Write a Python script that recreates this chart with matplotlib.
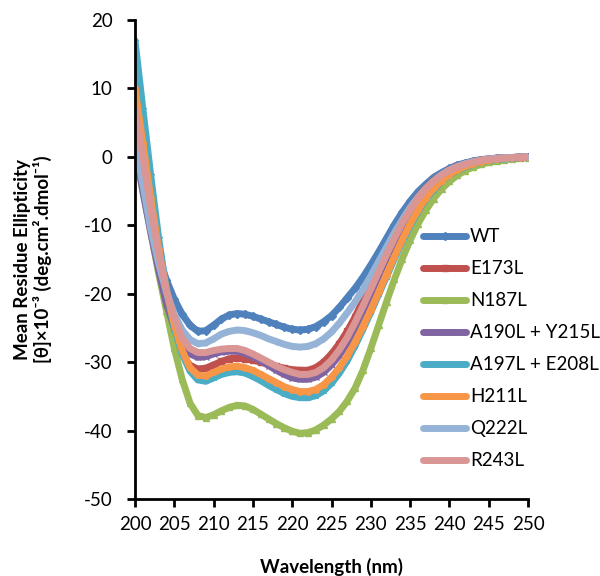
import numpy as np
import matplotlib
matplotlib.use('Agg')
import matplotlib.pyplot as plt

# font setup (Calibri-like look)
plt.rcParams['font.family'] = ['Lato', 'DejaVu Sans']
plt.rcParams['axes.unicode_minus'] = False
FONT = 13.5

# ---------------- data ----------------
wavelength = np.arange(200, 251)   # nm, 1 nm steps

WT = [1.0, -4.0, -10.0, -14.5, -18.0, -20.8, -23.0, -24.6, -25.5, -25.4,
      -24.6, -23.7, -23.1, -22.9, -23.0, -23.3, -23.7, -24.1, -24.5, -24.9,
      -25.2, -25.3, -25.2, -24.8, -24.1, -23.2, -22.0, -20.6, -19.2, -17.6,
      -15.8, -13.9, -11.9, -9.9, -8.1, -6.5, -5.1, -4.0, -3.0, -2.3,
      -1.7, -1.2, -0.9, -0.6, -0.4, -0.3, -0.2, -0.1, -0.1, 0.0,
      0.0]
E173L = [5.0, -2.0, -9.0, -15.5, -21.0, -25.5, -28.8, -30.5, -31.0, -30.9,
         -30.4, -29.9, -29.5, -29.4, -29.5, -29.7, -30.0, -30.3, -30.6, -30.9,
         -31.1, -31.2, -31.2, -30.8, -30.0, -28.8, -27.3, -25.5, -23.4, -21.0,
         -18.5, -16.0, -13.6, -11.3, -9.2, -7.4, -5.8, -4.5, -3.4, -2.6,
         -1.9, -1.4, -1.0, -0.7, -0.5, -0.3, -0.2, -0.1, -0.1, 0.0,
         0.0]
N187L = [1.0, -5.0, -11.0, -17.0, -22.5, -28.0, -32.5, -36.0, -37.8, -38.1,
         -37.7, -37.1, -36.6, -36.3, -36.4, -36.9, -37.6, -38.3, -39.0, -39.6,
         -40.1, -40.4, -40.3, -39.9, -39.2, -38.3, -37.2, -35.7, -33.8, -31.2,
         -28.0, -24.6, -21.2, -17.9, -14.9, -12.2, -9.8, -7.8, -6.1, -4.7,
         -3.6, -2.7, -2.0, -1.5, -1.1, -0.8, -0.6, -0.4, -0.3, -0.2,
         -0.1]
A190L_Y215L = [1.5, -5.0, -11.0, -16.5, -21.5, -25.0, -27.5, -28.8, -29.3, -29.2,
               -28.8, -28.5, -28.4, -28.4, -28.7, -29.2, -29.8, -30.5, -31.2, -31.8,
               -32.3, -32.5, -32.5, -32.2, -31.5, -30.4, -29.0, -27.2, -25.0, -22.6,
               -20.0, -17.4, -14.9, -12.4, -10.2, -8.2, -6.4, -5.0, -3.8, -2.8,
               -2.1, -1.6, -1.1, -0.8, -0.6, -0.4, -0.3, -0.2, -0.1, -0.1,
               0.0]
A197L_E208L = [17.0, 7.0, -2.7, -11.8, -19.5, -25.0, -28.8, -31.3, -32.6, -32.8,
               -32.3, -31.8, -31.5, -31.4, -31.6, -32.1, -32.7, -33.4, -34.0, -34.6,
               -35.0, -35.2, -35.2, -34.9, -34.2, -33.1, -31.6, -29.8, -27.6, -25.2,
               -22.7, -20.1, -17.5, -14.9, -12.4, -10.1, -8.0, -6.2, -4.8, -3.6,
               -2.7, -2.0, -1.5, -1.1, -0.8, -0.5, -0.4, -0.3, -0.2, -0.1,
               0.0]
H211L = [10.0, 2.0, -6.0, -13.5, -19.5, -24.5, -28.3, -30.8, -31.9, -32.0,
         -31.5, -31.0, -30.7, -30.6, -30.8, -31.2, -31.8, -32.4, -33.0, -33.6,
         -34.0, -34.3, -34.3, -34.0, -33.3, -32.2, -30.8, -29.1, -27.1, -24.8,
         -22.4, -19.8, -17.2, -14.6, -12.1, -9.8, -7.8, -6.0, -4.6, -3.5,
         -2.6, -1.9, -1.4, -1.0, -0.7, -0.5, -0.3, -0.2, -0.1, -0.1,
         0.0]
Q222L = [2.0, -4.0, -10.5, -15.5, -19.8, -23.0, -25.3, -26.7, -27.3, -27.2,
         -26.6, -25.9, -25.5, -25.3, -25.4, -25.7, -26.1, -26.6, -27.0, -27.4,
         -27.7, -27.8, -27.7, -27.3, -26.6, -25.6, -24.3, -22.8, -21.2, -19.4,
         -17.4, -15.3, -13.2, -11.1, -9.2, -7.4, -5.9, -4.6, -3.5, -2.6,
         -1.9, -1.4, -1.0, -0.7, -0.5, -0.3, -0.2, -0.1, -0.1, 0.0,
         0.0]
R243L = [7.0, 0.0, -7.5, -14.0, -19.5, -23.5, -26.5, -28.0, -28.6, -28.6,
         -28.3, -28.1, -28.0, -28.0, -28.3, -28.8, -29.4, -30.0, -30.6, -31.1,
         -31.5, -31.8, -31.8, -31.5, -30.8, -29.7, -28.2, -26.4, -24.2, -21.8,
         -19.3, -16.8, -14.3, -11.9, -9.7, -7.8, -6.1, -4.7, -3.6, -2.7,
         -2.0, -1.5, -1.1, -0.8, -0.5, -0.4, -0.3, -0.2, -0.1, -0.1,
         0.0]

labels = ['WT', 'E173L', 'N187L', 'A190L + Y215L', 'A197L + E208L',
          'H211L', 'Q222L', 'R243L']
series = [WT, E173L, N187L, A190L_Y215L, A197L_E208L, H211L, Q222L, R243L]

# Excel 2007 default palette / markers
colors = ['#4F81BD', '#C0504D', '#9BBB59', '#8064A2', '#4BACC6',
          '#F79646', '#95B3D7', '#D99694']
markers = ['D', 's', '^', 'x', '*', 'o', '+', '_']


def main():
    fig = plt.figure(figsize=(6.0, 5.76), dpi=100)
    ax = fig.add_axes([0.225, 0.1337, 0.655, 0.8316])

    for vals, lab, col, mk in zip(series, labels, colors, markers):
        ax.plot(wavelength, vals, color=col, lw=5, marker=mk, ms=4,
                mew=1, label=lab, solid_capstyle='round')

    ax.set_xlim(200, 250)
    ax.set_ylim(-50, 20)
    ax.set_xticks(np.arange(200, 251, 5))
    ax.set_yticks(np.arange(-50, 21, 10))

    for s in ['top', 'right']:
        ax.spines[s].set_visible(False)
    for s in ['left', 'bottom']:
        ax.spines[s].set_linewidth(2)
    ax.tick_params(direction='out', length=6, width=2, labelsize=FONT)
    ax.tick_params(axis='y', pad=10)
    ax.tick_params(axis='x', pad=6)

    ax.set_xlabel('Wavelength (nm)', fontsize=FONT, fontweight='bold',
                  labelpad=18)
    ax.set_ylabel('Mean Residue Ellipticity\n[θ]×10⁻³ (deg.cm².dmol⁻¹)',
                  fontsize=FONT, fontweight='bold', linespacing=1.15)
    ax.yaxis.set_label_coords(-0.21, 0.5)

    fig.legend(loc='upper left', bbox_to_anchor=(0.705, 0.604),
               frameon=False, fontsize=FONT, numpoints=1,
               handlelength=2.3, handletextpad=0.2, labelspacing=0.8,
               borderpad=0, borderaxespad=0)

    plt.savefig('out.png', dpi=100)
    plt.close('all')


if __name__ == "__main__":
    main()
